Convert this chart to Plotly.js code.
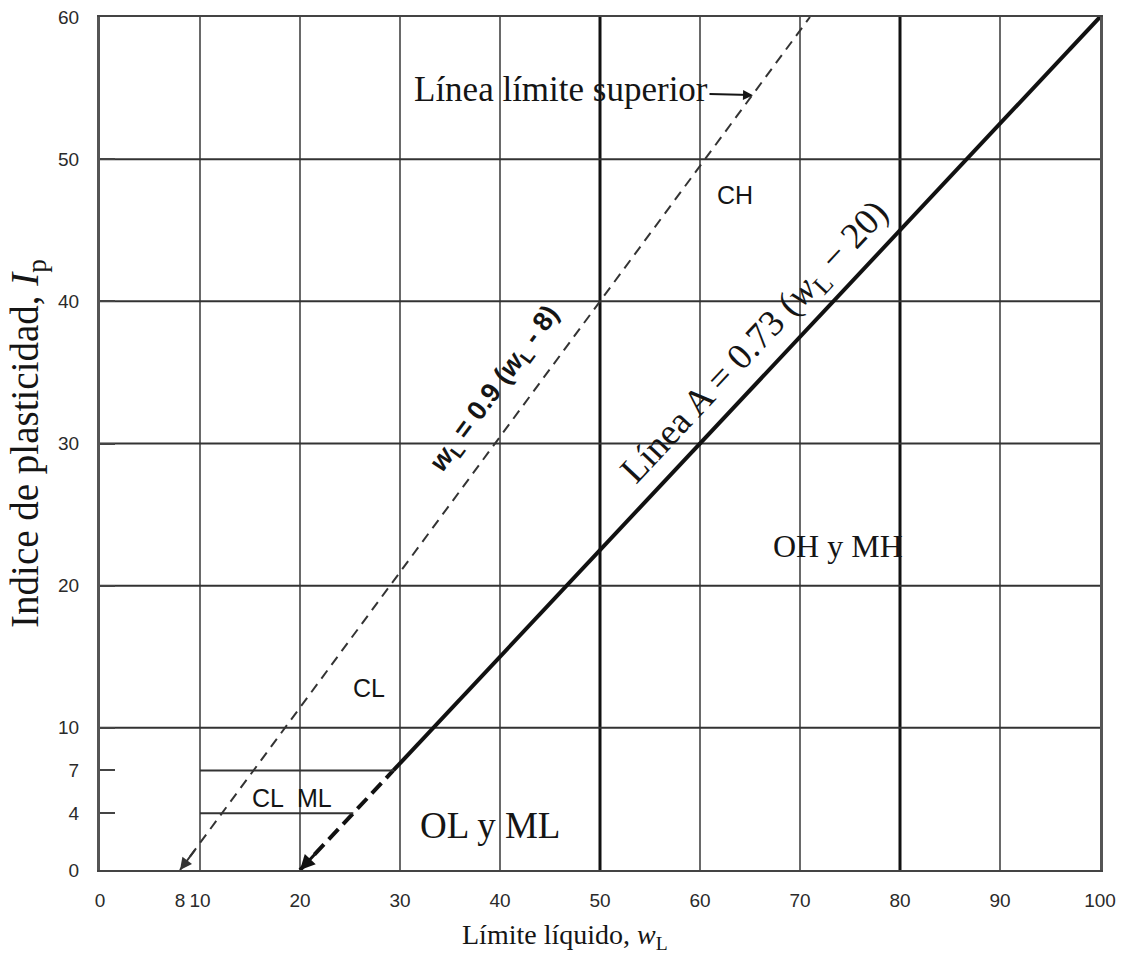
<!DOCTYPE html>
<html>
<head>
<meta charset="utf-8">
<script src="https://cdn.plot.ly/plotly-3.0.1.min.js"></script>
<style>html,body{margin:0;padding:0;background:#fff;}</style>
</head>
<body>
<div id="chart" style="width:1128px;height:967px;"></div>
<script>
// ---- data ----
const xTickVals = [0, 8, 10, 20, 30, 40, 50, 60, 70, 80, 90, 100];
const xTickText = ['0', '8', '10', '20', '30', '40', '50', '60', '70', '80', '90', '100'];
const yTickVals = [0, 4, 7, 10, 20, 30, 40, 50, 60];
const yTickText = ['0', '4', '7', '10', '20', '30', '40', '50', '60'];
const gridX = [10, 20, 30, 40, 50, 60, 70, 80, 90];
const gridXBold = [50, 80];
const gridY = [10, 20, 30, 40, 50];

// upper limit line (U-line), dashed
const uLineX = [8, 71];
const uLineY = [0, 60];
// A-line: dashed part below Ip = 7, solid above
const aLineDashX = [20, 29.33];
const aLineDashY = [0, 7];
const aLineX = [29.33, 100];
const aLineY = [7, 60];
// CL-ML band limits
const clmlTopX = [10, 29.33];
const clmlTopY = [7, 7];
const clmlBotX = [10, 25.33];
const clmlBotY = [4, 4];

// zone labels
const zoneText = ['CH', 'CL', 'CL  ML'];
const zoneX = [63.5, 26.9, 19.2];
const zoneY = [47.5, 12.8, 5.1];
const zoneText2 = ['OL y ML', 'OH y MH'];
const zoneX2 = [39, 73.8];
const zoneY2 = [3.1, 22.8];
const zoneSize2 = [37, 32];

const ink = '#151515';
const serif = 'Liberation Serif, Times New Roman, serif';
const sans = 'Liberation Sans, Arial, sans-serif';

const traces = [
  {x: uLineX, y: uLineY, mode: 'lines', line: {color: '#333', width: 2, dash: '10px,7px'}, hoverinfo: 'skip'},
  {x: aLineDashX, y: aLineDashY, mode: 'lines', line: {color: '#111', width: 4, dash: '14px,7px'}, hoverinfo: 'skip'},
  {x: aLineX, y: aLineY, mode: 'lines', line: {color: '#111', width: 4}, hoverinfo: 'skip'},
  {x: clmlTopX, y: clmlTopY, mode: 'lines', line: {color: '#333', width: 2}, hoverinfo: 'skip'},
  {x: clmlBotX, y: clmlBotY, mode: 'lines', line: {color: '#333', width: 2}, hoverinfo: 'skip'}
];

const shapes = [];
gridX.forEach(v => shapes.push({type: 'line', xref: 'x', yref: 'y', x0: v, x1: v, y0: 0, y1: 60, layer: 'below',
  line: {color: gridXBold.includes(v) ? '#111' : '#444', width: gridXBold.includes(v) ? 3 : 1.6}}));
gridY.forEach(v => shapes.push({type: 'line', xref: 'x', yref: 'y', x0: 0, x1: 100, y0: v, y1: v, layer: 'below',
  line: {color: '#333', width: 2}}));

const annotations = [];
zoneText.forEach((t, i) => annotations.push({x: zoneX[i], y: zoneY[i], text: t, showarrow: false,
  font: {family: sans, size: 25, color: ink}}));
zoneText2.forEach((t, i) => annotations.push({x: zoneX2[i], y: zoneY2[i], text: t, showarrow: false,
  font: {family: serif, size: zoneSize2[i], color: ink}}));
// rotated line labels
annotations.push({x: 65.6, y: 37.0, text: 'Línea A = 0.73 (<i>w</i><sub>L</sub> − 20)', showarrow: false,
  textangle: -46.8, font: {family: serif, size: 37, color: ink}});
annotations.push({x: 39.6, y: 33.8, text: '<i>w</i><sub>L</sub> = 0.9 (<i>w</i><sub>L</sub> - 8)', showarrow: false,
  textangle: -53.6, font: {family: sans, size: 27, color: ink, weight: 'bold'}});
// upper limit label with arrow
annotations.push({x: 65.3, y: 54.5, axref: 'x', ayref: 'y', ax: 46.1, ay: 54.9,
  text: 'Línea límite superior', showarrow: true, arrowhead: 2, arrowsize: 1, arrowwidth: 2, arrowcolor: ink,
  font: {family: serif, size: 35, color: ink}});
// arrow tips at the bottom ends of the lines
annotations.push({x: uLineX[0], y: uLineY[0], axref: 'x', ayref: 'y', ax: 9.6, ay: 1.5, text: '',
  showarrow: true, arrowhead: 2, arrowsize: 1.2, arrowwidth: 2, arrowcolor: '#333'});
annotations.push({x: aLineDashX[0], y: aLineDashY[0], axref: 'x', ayref: 'y', ax: 21.6, ay: 1.2, text: '',
  showarrow: true, arrowhead: 2, arrowsize: 1, arrowwidth: 3, arrowcolor: '#111'});
// x-axis title (placed to match the original, slightly left of centre)
annotations.push({xref: 'paper', yref: 'paper', x: 0.465, y: -0.078, yanchor: 'middle', showarrow: false,
  text: 'Límite líquido, <i>w</i><sub>L</sub>', font: {family: serif, size: 28, color: ink}});

const layout = {
  width: 1128, height: 967,
  margin: {l: 100, r: 28, t: 17, b: 97},
  paper_bgcolor: '#fff', plot_bgcolor: '#fff',
  showlegend: false,
  xaxis: {
    range: [0, 100], tickvals: xTickVals, ticktext: xTickText, showgrid: false, zeroline: false,
    ticks: '', ticklabelstandoff: 12,
    showline: true, mirror: true, linecolor: '#444', linewidth: 2,
    tickfont: {family: sans, size: 19, color: '#2a2a2a'}
  },
  yaxis: {
    range: [0, 60], tickvals: yTickVals, ticktext: yTickText, showgrid: false, zeroline: false,
    ticks: 'inside', ticklen: 15, tickwidth: 2, tickcolor: '#444', ticklabelstandoff: 14,
    showline: true, mirror: true, linecolor: '#555', linewidth: 3,
    tickfont: {family: sans, size: 19, color: '#2a2a2a'},
    title: {text: 'Indice de plasticidad, <i>I</i><sub>p</sub>', standoff: 8,
      font: {family: serif, size: 39, color: ink}}
  },
  shapes: shapes,
  annotations: annotations
};

Plotly.newPlot('chart', traces, layout, {displayModeBar: false, staticPlot: true});
</script>
</body>
</html>
